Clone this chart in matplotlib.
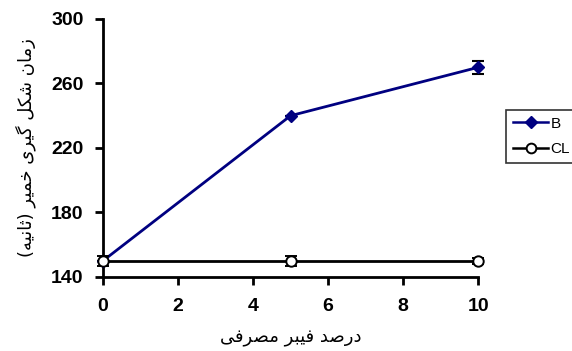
import matplotlib
matplotlib.use("Agg")
from matplotlib import pyplot as plt
from matplotlib.lines import Line2D

# data
fiber_pct = [0, 5, 10]
b_time = [150, 240, 270]
b_err = [0, 0, 4]
cl_time = [150, 150, 150]
cl_err = [3, 3, 2]
series_names = ["B", "CL"]
xticks = [0, 2, 4, 6, 8, 10]
yticks = [140, 180, 220, 260, 300]
xlabel_fa = "درصد فیبر مصرفی"
ylabel_fa = "زمان شکل گیری خمیر (ثانیه)"

# presentation forms: iso, fin, ini, med (None = does not join to the next letter)
FORMS = {
    "ز": ("\uFEAF", "\uFEB0", None, None),
    "ر": ("\uFEAD", "\uFEAE", None, None),
    "د": ("\uFEA9", "\uFEAA", None, None),
    "ا": ("\uFE8D", "\uFE8E", None, None),
    "م": ("\uFEE1", "\uFEE2", "\uFEE3", "\uFEE4"),
    "ن": ("\uFEE5", "\uFEE6", "\uFEE7", "\uFEE8"),
    "ش": ("\uFEB5", "\uFEB6", "\uFEB7", "\uFEB8"),
    "ک": ("\uFB8E", "\uFB8F", "\uFB90", "\uFB91"),
    "ل": ("\uFEDD", "\uFEDE", "\uFEDF", "\uFEE0"),
    "گ": ("\uFB92", "\uFB93", "\uFB94", "\uFB95"),
    "ی": ("\uFBFC", "\uFBFD", "\uFBFE", "\uFBFF"),
    "خ": ("\uFEA5", "\uFEA6", "\uFEA7", "\uFEA8"),
    "ث": ("\uFE99", "\uFE9A", "\uFE9B", "\uFE9C"),
    "ه": ("\uFEE9", "\uFEEA", "\uFEEB", "\uFEEC"),
    "ص": ("\uFEB9", "\uFEBA", "\uFEBB", "\uFEBC"),
    "ف": ("\uFED1", "\uFED2", "\uFED3", "\uFED4"),
    "ب": ("\uFE8F", "\uFE90", "\uFE91", "\uFE92"),
}
MIRROR = {"(": ")", ")": "("}


def shape_rtl(text):
    """Join Persian letters and put the string in visual (left-to-right) order."""
    out = []
    for i, ch in enumerate(text):
        if ch not in FORMS:
            out.append(MIRROR.get(ch, ch))
            continue
        prev = text[i - 1] if i > 0 else ""
        nxt = text[i + 1] if i + 1 < len(text) else ""
        join_prev = prev in FORMS and FORMS[prev][2] is not None
        join_next = nxt in FORMS and FORMS[ch][2] is not None
        iso, fin, ini, med = FORMS[ch]
        if join_prev and join_next:
            out.append(med)
        elif join_prev:
            out.append(fin)
        elif join_next:
            out.append(ini)
        else:
            out.append(iso)
    return "".join(reversed(out))


NAVY = "#000080"
b_style = dict(color=NAVY, lw=2, marker="D", ms=6.5, mfc=NAVY, mec=NAVY)
cl_style = dict(color="black", lw=2, marker="o", ms=7.5, mfc="white",
                mec="black", mew=1.4)
err_style = dict(ecolor="black", elinewidth=1.5, capsize=4, capthick=1.5)

fig = plt.figure(figsize=(5.72, 3.51), dpi=100)
ax = fig.add_axes([0.180, 0.211, 0.656, 0.735])

ax.errorbar(fiber_pct, b_time, yerr=b_err, zorder=3, **b_style, **err_style)
ax.errorbar(fiber_pct, cl_time, yerr=cl_err, zorder=4, **cl_style, **err_style)

ax.set_xlim(0, 10)
ax.set_ylim(140, 300)
ax.set_xticks(xticks)
ax.set_yticks(yticks)
for s in ["top", "right"]:
    ax.spines[s].set_visible(False)
for s in ["left", "bottom"]:
    ax.spines[s].set_linewidth(2)
ax.tick_params(direction="out", length=6, width=2, labelsize=14)
ax.tick_params(axis="x", pad=9)
ax.tick_params(axis="y", pad=8)
for lab in ax.get_xticklabels() + ax.get_yticklabels():
    lab.set_fontfamily("Liberation Sans")
    lab.set_fontweight("bold")
for art in ax.get_children():
    art.set_clip_on(False)

ax.set_xlabel(shape_rtl(xlabel_fa), fontsize=13, family="DejaVu Sans", labelpad=10)
ax.set_ylabel(shape_rtl(ylabel_fa), fontsize=13, family="DejaVu Sans", labelpad=11)

leg_b = dict(b_style, lw=1.8, ms=6)
leg_cl = dict(cl_style, lw=1.8, ms=7)
handles = [Line2D([], [], **leg_b), Line2D([], [], **leg_cl)]
leg = fig.legend(handles, series_names, loc="upper left",
                 bbox_to_anchor=(0.885, 0.687),
                 prop={"family": "Liberation Sans", "size": 11},
                 frameon=True, fancybox=False, edgecolor="black",
                 handlelength=2.3, handletextpad=0.15, borderpad=0.45,
                 labelspacing=0.75, borderaxespad=0)
leg.get_frame().set_linewidth(1.2)

fig.savefig("out.png", dpi=100)
